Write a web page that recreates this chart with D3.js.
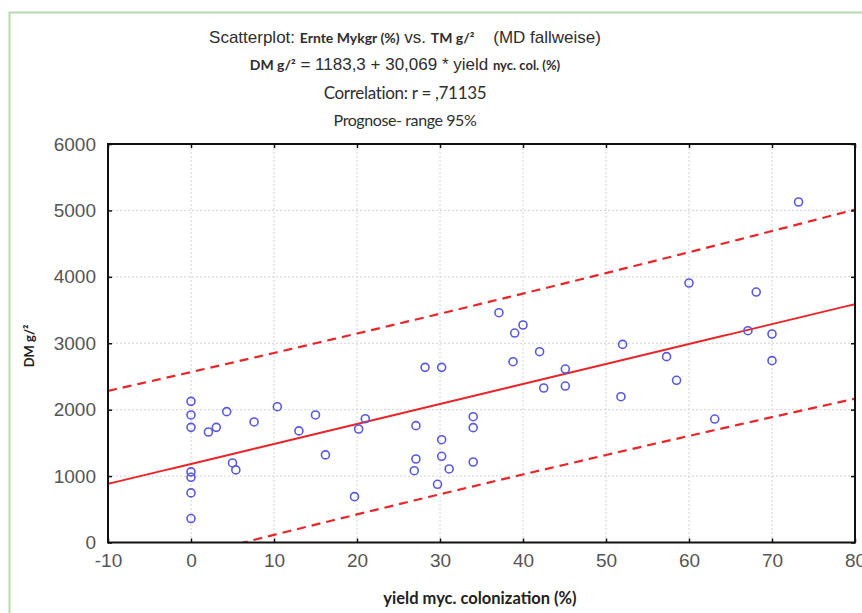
<!DOCTYPE html>
<html>
<head>
<meta charset="utf-8">
<script src="https://cdn.jsdelivr.net/npm/d3@7"></script>
<style>
  html, body { margin: 0; padding: 0; background: #fff; }
  svg { display: block; }
</style>
</head>
<body>
<svg id="chart" width="862" height="613"></svg>
<script>
// yield of mycorrhizal colonization (%) per plot
const colonization = [
  0, 0, 0, 0, 0, 0, 0,
  2.1, 3.05, 4.3, 5.0, 5.4, 7.6, 10.4, 13.0, 15.0, 16.2,
  19.7, 20.2, 21.0, 26.9, 27.1, 27.1, 28.2, 29.7, 30.2, 30.2, 30.2,
  31.1, 34.0, 34.0, 34.0, 37.1, 38.8, 39.0, 40.0, 42.0, 42.5,
  45.1, 45.1, 51.8, 52.0, 57.3, 58.5, 60.0, 63.1, 67.1, 68.1,
  70.0, 70.0, 73.2
];
// dry matter (g/m²) per plot
const dryMatter = [
  2125, 1920, 1734, 1063, 982, 747, 361,
  1664, 1734, 1970, 1198, 1093, 1815, 2045, 1680, 1920, 1319,
  690, 1709, 1864, 1081, 1759, 1257, 2637, 876, 2637, 1548, 1298,
  1107, 1894, 1729, 1212, 3460, 2722, 3154, 3275, 2873, 2326,
  2612, 2356, 2195, 2983, 2798, 2442, 3907, 1859, 3189, 3771,
  3139, 2738, 5127
];
const xTicks = [-10, 0, 10, 20, 30, 40, 50, 60, 70, 80];
const yTicks = [0, 1000, 2000, 3000, 4000, 5000, 6000];
// fitted regression DM = a + b * yield
const intercept = 1183.3;
const slope = 30.069;
const tCrit = 2.0096; // t(0.975, df = 49)

const svg = d3.select("#chart");
const W = 862, H = 613;
const m = { left: 108, right: 855, top: 144, bottom: 542.5 };

const x = d3.scaleLinear().domain([-10, 80]).range([m.left, m.right]);
const y = d3.scaleLinear().domain([0, 6000]).range([m.bottom, m.top]);
const plainInt = d => String(d); // hyphen-minus, as in the original software

// outer green frame
svg.append("rect")
  .attr("x", 9.5).attr("y", 12.5)
  .attr("width", W + 20).attr("height", H + 20)
  .attr("fill", "none").attr("stroke", "#b8d8b2").attr("stroke-width", 2);

// titles
const sans = "'Liberation Sans', Arial, sans-serif";
const cal = "Lato, 'Open Sans', sans-serif";
const title = svg.append("g").attr("fill", "#2e2e2e").attr("text-anchor", "middle");

const t1 = title.append("text").attr("x", 405).attr("y", 43);
t1.append("tspan").attr("font-family", sans).attr("font-size", 17).text("Scatterplot: ");
t1.append("tspan").attr("font-family", cal).attr("font-weight", "bold").attr("font-size", 14).text("Ernte Mykgr (%)");
t1.append("tspan").attr("font-family", sans).attr("font-size", 17).text(" vs. ");
t1.append("tspan").attr("font-family", cal).attr("font-weight", "bold").attr("font-size", 14).text("TM g/²");
t1.append("tspan").attr("font-family", sans).attr("font-size", 17).text("\u00a0\u00a0\u00a0 (MD fallweise)");

const t2 = title.append("text").attr("x", 405).attr("y", 70);
t2.append("tspan").attr("font-family", cal).attr("font-weight", "bold").attr("font-size", 14).text("DM g/²");
t2.append("tspan").attr("font-family", sans).attr("font-size", 17)
  .text(" = " + d3.format(".1f")(intercept).replace(".", ",") + " + " +
        d3.format(".3f")(slope).replace(".", ",") + " * yield ");
t2.append("tspan").attr("font-family", cal).attr("font-weight", "bold").attr("font-size", 13).text("nyc. col. (%)");

title.append("text").attr("x", 405).attr("y", 99)
  .attr("font-family", cal).attr("font-size", 17).attr("letter-spacing", -0.3)
  .text("Correlation: r = ,71135");
title.append("text").attr("x", 405).attr("y", 126)
  .attr("font-family", cal).attr("font-size", 16).attr("letter-spacing", -0.4)
  .text("Prognose- range 95%");

// clip for plotted lines
svg.append("clipPath").attr("id", "plotClip")
  .append("rect").attr("x", m.left).attr("y", m.top)
  .attr("width", m.right - m.left).attr("height", m.bottom - m.top);

// dotted grid
const grid = svg.append("g").attr("stroke", "#d2d2d2").attr("stroke-width", 1)
  .attr("stroke-dasharray", "2,2");
grid.selectAll("line.gx").data(xTicks.slice(1, -1)).join("line")
  .attr("x1", d => x(d)).attr("x2", d => x(d))
  .attr("y1", m.top).attr("y2", m.bottom);
grid.selectAll("line.gy").data(yTicks.slice(1, -1)).join("line")
  .attr("x1", m.left).attr("x2", m.right)
  .attr("y1", d => y(d)).attr("y2", d => y(d));

// prediction band from the residuals around the fitted line
const n = colonization.length;
const xMean = d3.mean(colonization);
const sxx = d3.sum(colonization, v => (v - xMean) ** 2);
const sse = d3.sum(colonization, (v, i) => (dryMatter[i] - (intercept + slope * v)) ** 2);
const sRes = Math.sqrt(sse / (n - 2));
const fit = v => intercept + slope * v;
const half = v => tCrit * sRes * Math.sqrt(1 + 1 / n + (v - xMean) ** 2 / sxx);
const xs = d3.range(-10, 80.01, 1);

const lineGen = d3.line().x(d => x(d[0])).y(d => y(d[1]));
const plot = svg.append("g").attr("clip-path", "url(#plotClip)");

plot.append("path")
  .attr("d", lineGen(xs.map(v => [v, fit(v)])))
  .attr("fill", "none").attr("stroke", "#e8262a").attr("stroke-width", 2);
[1, -1].forEach(sign => {
  plot.append("path")
    .attr("d", lineGen(xs.map(v => [v, fit(v) + sign * half(v)])))
    .attr("fill", "none").attr("stroke", "#e8262a").attr("stroke-width", 2.2)
    .attr("stroke-dasharray", "9,6");
});

// data points
svg.append("g").selectAll("circle")
  .data(colonization.map((v, i) => [v, dryMatter[i]]))
  .join("circle")
  .attr("cx", d => x(d[0])).attr("cy", d => y(d[1]))
  .attr("r", 4)
  .attr("fill", "none").attr("stroke", "#5858de").attr("stroke-width", 1.6);

// axes with inward ticks on all four sides
const tickStyle = g => {
  g.select(".domain").remove();
  g.selectAll(".tick line").attr("stroke", "#111").attr("stroke-width", 1.5);
  g.selectAll(".tick text").attr("fill", "#555")
    .attr("font-family", sans).attr("font-size", 19);
};
svg.append("g").attr("transform", `translate(0,${m.bottom})`)
  .call(d3.axisBottom(x).tickValues(xTicks).tickSize(-4).tickPadding(11).tickFormat(plainInt))
  .call(tickStyle);
svg.append("g").attr("transform", `translate(0,${m.top})`)
  .call(d3.axisTop(x).tickValues(xTicks).tickSize(-4).tickFormat(""))
  .call(tickStyle);
svg.append("g").attr("transform", `translate(${m.left},0)`)
  .call(d3.axisLeft(y).tickValues(yTicks).tickSize(-4).tickPadding(12).tickFormat(plainInt))
  .call(tickStyle);
svg.append("g").attr("transform", `translate(${m.right},0)`)
  .call(d3.axisRight(y).tickValues(yTicks).tickSize(-4).tickFormat(""))
  .call(tickStyle);

// plot frame
svg.append("rect")
  .attr("x", m.left).attr("y", m.top)
  .attr("width", m.right - m.left).attr("height", m.bottom - m.top)
  .attr("fill", "none").attr("stroke", "#111").attr("stroke-width", 2);

// axis titles
svg.append("text")
  .attr("x", 480).attr("y", 604)
  .attr("text-anchor", "middle").attr("fill", "#222")
  .attr("font-family", cal).attr("font-weight", "bold").attr("font-size", 16.5)
  .text("yield myc. colonization (%)");
svg.append("text")
  .attr("transform", "translate(34,346) rotate(-90)")
  .attr("text-anchor", "middle").attr("fill", "#222")
  .attr("font-family", cal).attr("font-weight", "bold").attr("font-size", 13)
  .text("DM g/²");
</script>
</body>
</html>
